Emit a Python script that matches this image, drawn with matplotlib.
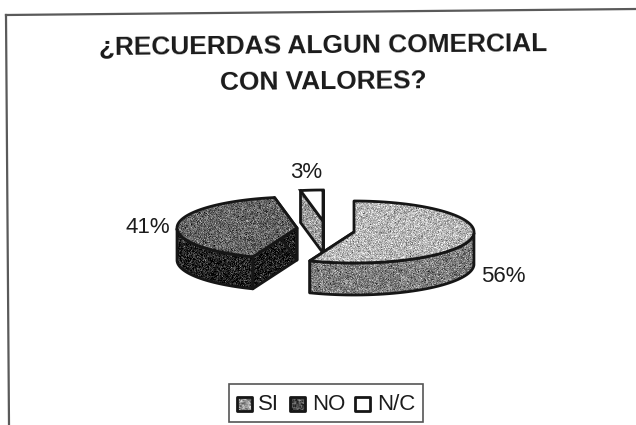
"""
plot.py
Exploded 3D-style pie of the "comercial con valores" survey, grey print look.
"""

import numpy as np
import matplotlib
matplotlib.use("Agg")
import matplotlib.pyplot as plt
from matplotlib.patches import Polygon, Rectangle

categories = ["SI", "NO", "N/C"]
shares = [56, 41, 3]
share_labels = ["56%", "41%", "3%"]

W, H = 636, 425
RX, RY, DEPTH = 120, 31, 32

# wedge centres on the page (exploded apart), pixel coords
centres = [(354, 232), (297, 228), (323, 221)]
top_grey = [0.72, 0.40, 1.00]
side_grey = [0.50, 0.14, 0.62]
cut_grey = [0.50, 0.12, 0.62]
label_pos = [(503, 276), (148, 227), (306, 172)]

rng = np.random.default_rng(7)

plt.rcParams["font.family"] = ["Liberation Sans", "DejaVu Sans"]
fig = plt.figure(figsize=(W / 100, H / 100), dpi=100, facecolor="white")
ax = fig.add_axes([0, 0, 1, 1])
ax.set_xlim(0, W)
ax.set_ylim(H, 0)
ax.axis("off")


def rim(cx, cy, a0, a1):
    # angles run clockwise from 12 o'clock
    t = np.radians(np.linspace(a0, a1, 80))
    return np.column_stack([cx + RX * np.sin(t), cy - RY * np.cos(t)])


def grainy(pts, grey, amount=0.12, z=2):
    # speckled fill, the way a photocopied gradient prints
    x0, y0 = pts.min(axis=0) - 2
    x1, y1 = pts.max(axis=0) + 2
    ny, nx = int(y1 - y0) + 1, int(x1 - x0) + 1
    tex = np.clip(grey + rng.normal(0, amount, (ny, nx)), 0, 1)
    im = ax.imshow(tex, cmap="gray", vmin=0, vmax=1, extent=(x0, x1, y1, y0),
                   interpolation="bilinear", aspect="auto", zorder=z)
    poly = Polygon(pts, closed=True, facecolor="none", edgecolor="#161616",
                   lw=2.0, joinstyle="round", zorder=z + 0.5)
    ax.add_patch(poly)
    im.set_clip_path(poly)


def wedge(i, a0, a1, z):
    cx, cy = centres[i]
    edge = rim(cx, cy, a0, a1)
    down = np.array([0, DEPTH])
    centre = np.array([cx, cy], dtype=float)

    # cut faces first, then the outer wall, top surface last
    grainy(np.array([centre, edge[0], edge[0] + down, centre + down]), cut_grey[i], z=z)
    grainy(np.array([centre, edge[-1], edge[-1] + down, centre + down]), cut_grey[i], z=z)

    # only the part of the rim facing the viewer has a visible wall
    t = np.linspace(a0, a1, 80)
    front = edge[(t >= 90) & (t <= 270)]
    if len(front) > 1:
        grainy(np.vstack([front, (front + down)[::-1]]), side_grey[i], z=z + 1)

    top = np.vstack([centre, edge])
    if top_grey[i] >= 1:
        ax.add_patch(Polygon(top, closed=True, facecolor="white", edgecolor="#161616",
                             lw=2.0, zorder=z + 2))
    else:
        grainy(top, top_grey[i], z=z + 2)


starts = np.cumsum([0] + shares[:-1]) * 3.6
ends = np.cumsum(shares) * 3.6
for i, z in zip([2, 1, 0], [2, 6, 10]):
    wedge(i, starts[i], ends[i], z)

for i, txt in enumerate(share_labels):
    ax.text(*label_pos[i], txt, fontsize=16, color="#1c1c1c", ha="center", va="center", zorder=20)

# page frame, slightly skewed on the scanner
frame = dict(color="#5a5a5a", lw=1.6, zorder=1)
ax.plot([6, 636], [15, 9], **frame)
ax.plot([6, 9], [15, 425], **frame)

ax.text(323, 45, "¿RECUERDAS ALGUN COMERCIAL", fontsize=18.9, fontweight="bold", color="#1a1a1a",
        ha="center", va="center", rotation=0.5, rotation_mode="anchor")
ax.text(323, 82, "CON VALORES?", fontsize=18.9, fontweight="bold", color="#1a1a1a",
        ha="center", va="center", rotation=0.5, rotation_mode="anchor")

# legend
ax.add_patch(Rectangle((229, 384), 194, 38, facecolor="white", edgecolor="#555555", lw=1.2, zorder=3))
swatch_x = [237, 290, 355]
text_x = [258, 312, 377]
swatch_grey = [0.58, 0.28, 1.0]
for sx, tx, name, g in zip(swatch_x, text_x, categories, swatch_grey):
    box = np.array([[sx, 397], [sx + 15, 397], [sx + 15, 411], [sx, 411]], dtype=float)
    grainy(box, g, amount=0.2 if g < 1 else 0, z=4)
    ax.text(tx, 405, name, fontsize=16, color="#1c1c1c", ha="left", va="center", zorder=6)

fig.savefig("out.png", dpi=100, facecolor="white")
